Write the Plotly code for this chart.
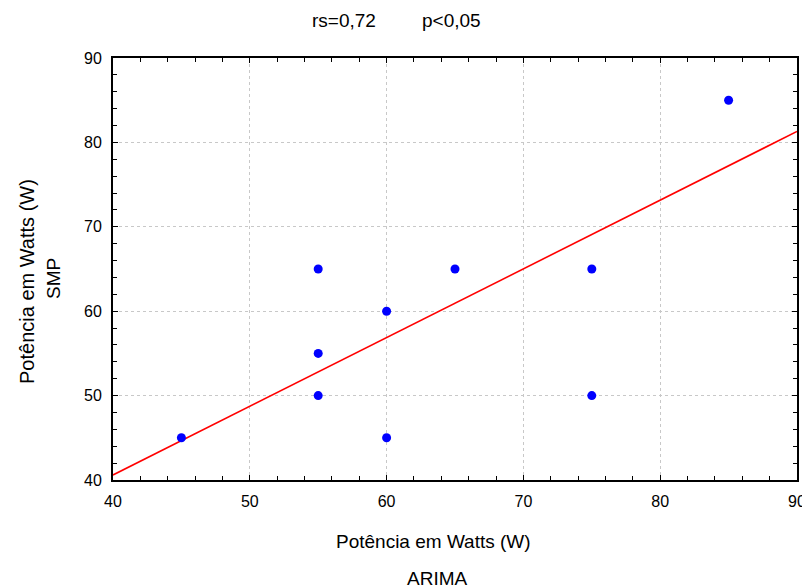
import plotly.graph_objects as go

arima = [45, 55, 55, 55, 60, 60, 65, 75, 75, 85]
smp = [45, 65, 55, 50, 60, 45, 65, 65, 50, 85]
fit_x = [40, 90]
fit_y = [40.6, 81.3]
tick_vals = [40, 50, 60, 70, 80, 90]

fig = go.Figure()
fig.add_trace(go.Scatter(x=fit_x, y=fit_y, mode="lines",
                         line=dict(color="#ff0000", width=1.6), hoverinfo="skip"))
fig.add_trace(go.Scatter(x=arima, y=smp, mode="markers",
                         marker=dict(color="#0000ff", size=9, line=dict(width=0))))

axis_common = dict(
    range=[40, 90], tickvals=tick_vals, ticks="inside", ticklen=5, tickwidth=1.2,
    tickcolor="black", showline=True, linecolor="black", linewidth=2, mirror="allticks",
    showgrid=True, gridcolor="#c8c8c8", griddash="dot", gridwidth=1.2,
    zeroline=False, tickfont=dict(family="Liberation Sans, Arial", size=16, color="black"),
    minor=dict(dtick=2, ticks="inside", ticklen=4, tickwidth=1.2, tickcolor="black", showgrid=False),
)
fig.update_xaxes(ticklabelstandoff=6, **axis_common)
fig.update_yaxes(ticklabelstandoff=6, **axis_common)

# positions in page pixels (the page body adds an 8 px offset)
annotations = [
    dict(text="rs=0,72", x=344, y=20, size=19),
    dict(text="p<0,05", x=451, y=20, size=19),
    dict(text="Potência em Watts (W)", x=433, y=541, size=19),
    dict(text="ARIMA", x=437, y=578, size=19),
    dict(text="Potência em Watts (W)", x=27, y=282, size=20, textangle=-90),
    dict(text="SMP", x=53, y=279, size=19, textangle=-90),
]
W, H = 810, 588
OFF = 8
L, T = 113 - OFF, 58 - OFF
R = W - (797 - OFF)
B = H - (480 - OFF)
pw, ph = W - L - R, H - T - B
for a in annotations:
    fx = a["x"] - OFF
    fy = a["y"] - OFF
    fig.add_annotation(text=a["text"], x=(fx - L) / pw, y=1 - (fy - T) / ph,
                       xref="paper", yref="paper", showarrow=False,
                       xanchor="center", yanchor="middle",
                       textangle=a.get("textangle", 0),
                       font=dict(family="Liberation Sans, Arial", size=a["size"], color="black"))

fig.update_layout(
    width=W, height=H, showlegend=False,
    plot_bgcolor="white", paper_bgcolor="white",
    margin=dict(l=L, r=R, t=T, b=B),
)
fig.write_html("out.html")
